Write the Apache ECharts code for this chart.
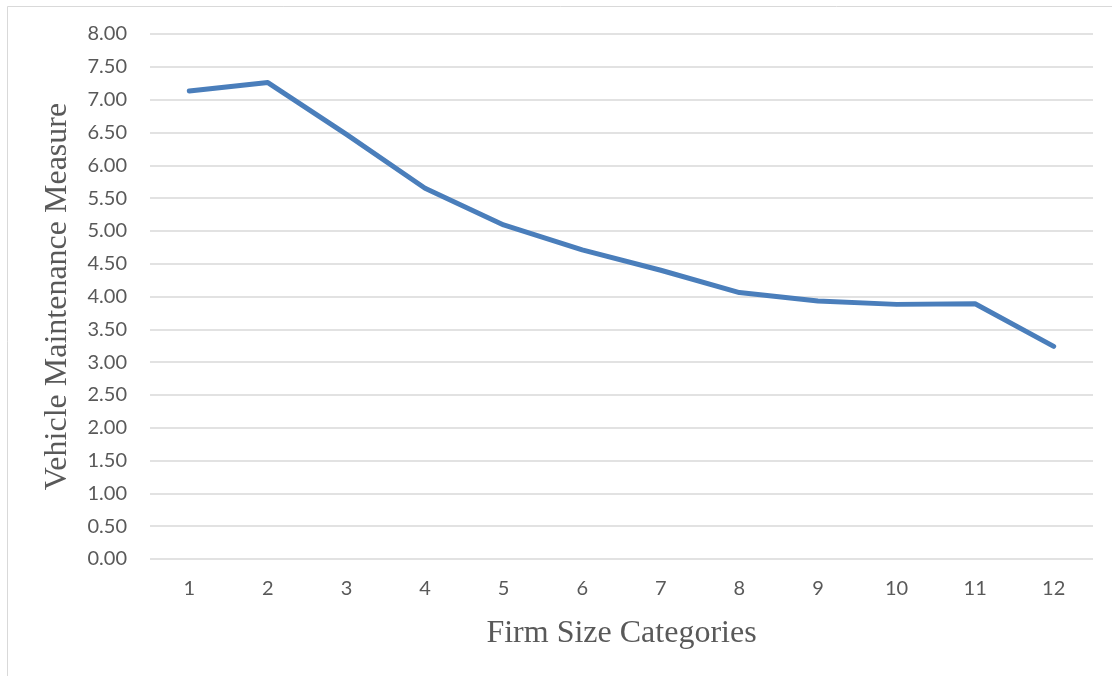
<!DOCTYPE html>
<html>
<head>
<meta charset="utf-8">
<style>
  html, body { margin: 0; padding: 0; background: #ffffff; }
  #chart { width: 1112px; height: 676px; }
</style>
<script src="https://cdn.jsdelivr.net/npm/echarts@6/dist/echarts.min.js"></script>
</head>
<body>
<div id="chart"></div>
<script>
// Firm size categories along the x axis
const categories = ['1', '2', '3', '4', '5', '6', '7', '8', '9', '10', '11', '12'];
// Vehicle maintenance measure per firm size category
const maintenanceValues = [7.13, 7.26, 6.47, 5.65, 5.09, 4.71, 4.40, 4.06, 3.93, 3.88, 3.89, 3.24];
// Value axis range and step
const yMin = 0;
const yMax = 8;
const yStep = 0.5;

const chart = echarts.init(document.getElementById('chart'), null, { renderer: 'canvas' });

const tickFont = 'Lato, "Open Sans", "Noto Sans", sans-serif';
const titleFont = '"Liberation Serif", "DejaVu Serif", serif';

chart.setOption({
  animation: false,
  backgroundColor: '#ffffff',
  graphic: [{
    type: 'rect',
    silent: true,
    shape: { x: 7.5, y: 6.5, width: 1400, height: 1000 },
    style: { fill: 'none', stroke: '#d9d9d9', lineWidth: 1 }
  }],
  grid: { left: 150, right: 19, top: 34, bottom: 117, containLabel: false },
  xAxis: {
    type: 'category',
    data: categories,
    boundaryGap: true,
    name: 'Firm Size Categories',
    nameLocation: 'middle',
    nameGap: 59,
    nameTextStyle: { fontFamily: titleFont, fontSize: 32, color: '#595959' },
    axisLine: { show: false },
    axisTick: { show: false },
    axisLabel: { fontFamily: tickFont, fontSize: 20, color: '#595959', margin: 20 },
    splitLine: { show: false }
  },
  yAxis: {
    type: 'value',
    min: yMin,
    max: yMax,
    interval: yStep,
    name: 'Vehicle Maintenance Measure',
    nameLocation: 'middle',
    nameGap: 76,
    nameRotate: 90,
    nameTextStyle: { fontFamily: titleFont, fontSize: 32, color: '#595959' },
    axisLine: { show: false },
    axisTick: { show: false },
    axisLabel: {
      fontFamily: tickFont, fontSize: 20, color: '#595959', margin: 23,
      formatter: v => v.toFixed(2)
    },
    splitLine: { lineStyle: { color: '#d9d9d9', width: 1.5 } }
  },
  series: [{
    type: 'line',
    data: maintenanceValues,
    symbol: 'none',
    smooth: false,
    lineStyle: { color: '#4a7ebb', width: 5, cap: 'round', join: 'round' }
  }]
});
</script>
</body>
</html>
